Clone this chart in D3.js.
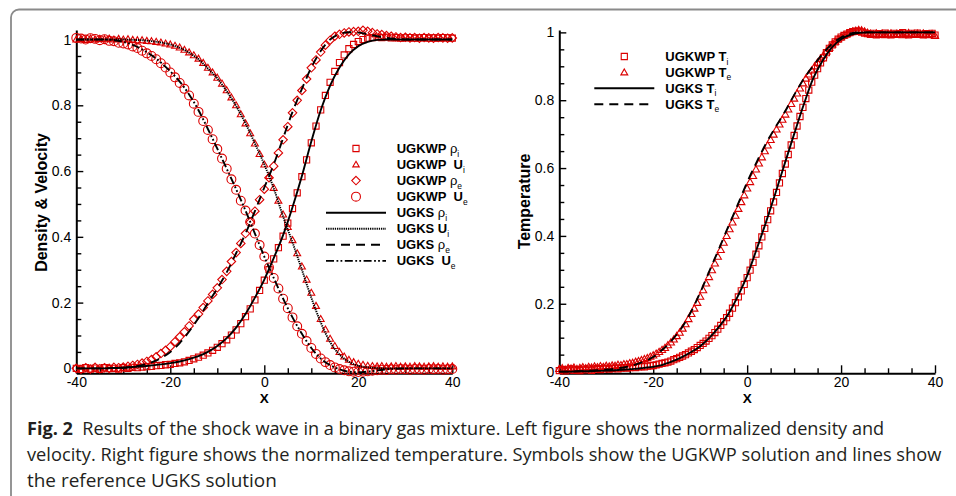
<!DOCTYPE html>
<html><head><meta charset="utf-8">
<script src="https://cdn.jsdelivr.net/npm/d3@7"></script>
<style>
html,body{margin:0;padding:0;background:#fff;}
svg{display:block;}
text{white-space:pre;}
</style></head><body>
<svg id="chart" width="956" height="496"></svg>
<script>
// ---------------- DATA ----------------
// Left panel: UGKWP symbols every 1 unit from -40 to 40
const leftMarkerX = d3.range(-40, 41, 1);
const ugkwpRhoI = [
  0.000,-0.003,0.002,-0.002,0.001,
  -0.003,0.002,-0.001,0.000,-0.002,
  0.002,0.000,0.003,0.002,0.004,
  0.005,0.006,0.008,0.009,0.011,
  0.012,0.015,0.017,0.020,0.024,
  0.029,0.034,0.040,0.047,0.055,
  0.064,0.075,0.087,0.101,0.117,
  0.136,0.157,0.181,0.208,0.237,
  0.268,0.300,0.333,0.367,0.402,
  0.442,0.486,0.534,0.583,0.634,
  0.686,0.737,0.786,0.830,0.870,
  0.903,0.930,0.953,0.972,0.985,
  0.994,1.000,1.004,1.006,1.007,
  1.006,1.007,1.005,1.006,1.004,
  1.005,1.006,1.004,1.005,1.006,
  1.004,1.005,1.004,1.006,1.005,
  1.004];
const ugkwpUI = [
  1.000,1.002,0.999,1.003,1.000,
  1.002,1.001,1.003,1.000,1.002,
  1.000,1.001,0.999,0.998,0.998,
  0.996,0.995,0.993,0.991,0.988,
  0.985,0.981,0.976,0.969,0.961,
  0.952,0.942,0.929,0.914,0.900,
  0.884,0.866,0.846,0.824,0.800,
  0.773,0.745,0.715,0.684,0.652,
  0.620,0.585,0.549,0.510,0.468,
  0.430,0.390,0.350,0.310,0.270,
  0.230,0.190,0.150,0.118,0.090,
  0.068,0.050,0.036,0.026,0.019,
  0.014,0.011,0.008,0.007,0.006,
  0.007,0.005,0.006,0.007,0.005,
  0.006,0.005,0.007,0.006,0.005,
  0.006,0.007,0.005,0.006,0.005,
  0.006];
const ugkwpRhoE = [
  0.000,-0.003,0.002,-0.002,0.003,
  -0.001,0.002,0.000,0.003,0.002,
  0.004,0.006,0.009,0.012,0.016,
  0.021,0.027,0.035,0.045,0.055,
  0.066,0.081,0.096,0.111,0.129,
  0.149,0.165,0.185,0.205,0.225,
  0.245,0.270,0.295,0.325,0.352,
  0.380,0.410,0.445,0.478,0.513,
  0.545,0.580,0.615,0.655,0.695,
  0.735,0.777,0.815,0.845,0.880,
  0.914,0.938,0.962,0.983,0.998,
  1.010,1.016,1.020,1.023,1.024,
  1.025,1.028,1.025,1.021,1.017,
  1.015,1.012,1.010,1.008,1.006,
  1.007,1.005,1.006,1.004,1.006,
  1.005,1.004,1.006,1.005,1.004,
  1.005];
const ugkwpUE = [
  1.005,1.003,1.000,1.004,1.002,
  0.998,1.001,0.996,0.995,0.990,
  0.988,0.985,0.979,0.974,0.966,
  0.958,0.950,0.940,0.928,0.915,
  0.900,0.885,0.868,0.850,0.830,
  0.805,0.780,0.752,0.725,0.697,
  0.667,0.638,0.607,0.575,0.543,
  0.510,0.480,0.445,0.410,0.375,
  0.340,0.307,0.275,0.243,0.212,
  0.183,0.155,0.128,0.105,0.083,
  0.062,0.044,0.030,0.019,0.010,
  0.003,-0.002,-0.006,-0.009,-0.010,
  -0.011,-0.010,-0.009,-0.007,-0.006,
  -0.004,-0.005,-0.003,-0.004,-0.002,
  -0.003,-0.004,-0.002,-0.003,-0.004,
  -0.002,-0.003,-0.002,-0.004,-0.003,
  -0.002];

// UGKS reference lines, every 2 units from -40 to 40 (both panels)
const lineX = d3.range(-40, 41, 2);
const ugksRhoI = [
  0.000,0.000,0.000,0.000,0.001,
  0.002,0.004,0.006,0.009,0.012,
  0.016,0.021,0.028,0.037,0.050,
  0.068,0.092,0.124,0.165,0.215,
  0.270,0.335,0.405,0.490,0.585,
  0.690,0.785,0.860,0.915,0.955,
  0.980,0.993,0.999,1.000,1.000,
  1.000,1.000,1.000,1.000,1.000,
  1.000];
const ugksUI = [
  1.000,1.000,1.000,1.000,1.000,
  1.000,0.999,0.998,0.995,0.991,
  0.985,0.975,0.960,0.940,0.912,
  0.882,0.843,0.798,0.745,0.684,
  0.620,0.548,0.462,0.383,0.300,
  0.215,0.140,0.080,0.042,0.020,
  0.008,0.003,0.001,0.000,0.000,
  0.000,0.000,0.000,0.000,0.000,
  0.000];
const ugksRhoE = [
  0.000,0.000,0.000,0.000,0.001,
  0.002,0.005,0.010,0.018,0.031,
  0.050,0.077,0.112,0.153,0.198,
  0.243,0.292,0.350,0.410,0.478,
  0.550,0.620,0.700,0.780,0.850,
  0.915,0.965,1.000,1.017,1.022,
  1.021,1.016,1.010,1.005,1.002,
  1.000,1.000,1.000,1.000,1.000,
  1.000];
const ugksUE = [
  1.000,1.000,1.000,1.000,0.998,
  0.993,0.984,0.970,0.952,0.930,
  0.903,0.872,0.833,0.785,0.728,
  0.668,0.607,0.545,0.480,0.410,
  0.340,0.275,0.212,0.155,0.105,
  0.062,0.030,0.010,-0.003,-0.010,
  -0.012,-0.010,-0.006,-0.003,-0.001,
  0.000,0.000,0.000,0.000,0.000,
  0.000];

// Right panel: UGKWP symbols every 0.625 units from -40 to 40
const rightMarkerX = d3.range(0, 129).map(i => -40 + i * 0.625);
const ugkwpTI = [
  0.003,0.006,0.002,0.005,0.008,0.004,0.006,0.003,
  0.007,0.005,0.008,0.004,0.007,0.009,0.006,0.008,
  0.010,0.007,0.009,0.011,0.008,0.010,0.012,0.010,
  0.012,0.013,0.012,0.014,0.015,0.014,0.016,0.017,
  0.018,0.020,0.022,0.024,0.026,0.028,0.031,0.035,
  0.038,0.042,0.046,0.050,0.055,0.060,0.065,0.071,
  0.077,0.083,0.090,0.098,0.106,0.115,0.125,0.136,
  0.147,0.159,0.172,0.187,0.203,0.220,0.238,0.257,
  0.277,0.299,0.322,0.346,0.371,0.397,0.422,0.448,
  0.474,0.500,0.528,0.556,0.584,0.612,0.640,0.668,
  0.696,0.724,0.752,0.779,0.805,0.830,0.853,0.874,
  0.893,0.910,0.925,0.940,0.953,0.963,0.972,0.980,
  0.986,0.991,0.995,0.999,1.002,1.004,1.003,1.001,
  0.998,0.996,0.994,0.997,0.993,0.996,0.994,0.998,
  0.995,0.993,0.997,0.994,0.996,0.999,0.995,0.993,
  0.997,0.994,0.998,0.995,0.993,0.996,0.994,0.997,
  0.992];
const ugkwpTE = [
  0.008,0.010,0.006,0.011,0.009,0.012,0.008,0.011,
  0.013,0.010,0.014,0.012,0.015,0.013,0.016,0.014,
  0.017,0.015,0.018,0.017,0.020,0.019,0.022,0.022,
  0.025,0.026,0.029,0.031,0.034,0.037,0.040,0.044,
  0.048,0.053,0.058,0.064,0.070,0.078,0.086,0.095,
  0.105,0.115,0.127,0.140,0.155,0.170,0.186,0.203,
  0.221,0.240,0.260,0.279,0.299,0.319,0.339,0.359,
  0.380,0.400,0.420,0.440,0.460,0.480,0.500,0.520,
  0.540,0.559,0.577,0.596,0.614,0.632,0.650,0.667,
  0.683,0.699,0.714,0.729,0.743,0.758,0.773,0.789,
  0.805,0.820,0.835,0.850,0.864,0.876,0.888,0.900,
  0.911,0.922,0.933,0.944,0.955,0.965,0.973,0.980,
  0.986,0.991,0.996,1.000,1.003,1.005,1.007,1.006,
  1.003,0.999,0.996,0.994,0.997,0.993,0.996,0.992,
  0.995,0.997,0.993,0.996,0.994,0.992,0.996,0.998,
  0.994,0.993,0.996,0.993,0.997,0.994,0.992,0.995,
  0.990];
const ugksTI = [
  0.000,0.000,0.001,0.001,0.002,
  0.003,0.004,0.006,0.008,0.011,
  0.014,0.020,0.030,0.042,0.057,
  0.075,0.100,0.132,0.170,0.222,
  0.283,0.360,0.440,0.525,0.613,
  0.700,0.785,0.862,0.915,0.955,
  0.980,0.993,0.999,1.000,1.000,
  1.000,1.000,1.000,1.000,1.000,
  1.000];
const ugksTE = [
  0.000,0.000,0.001,0.002,0.004,
  0.006,0.009,0.013,0.020,0.030,
  0.043,0.065,0.093,0.128,0.175,
  0.233,0.298,0.362,0.428,0.492,
  0.558,0.617,0.672,0.720,0.765,
  0.815,0.862,0.900,0.935,0.965,
  0.985,0.997,1.000,1.000,1.000,
  1.000,1.000,1.000,1.000,1.000,
  1.000];

// Ticks and labels
const xMajorTicks = [-40, -20, 0, 20, 40];
const xTickLabels = ["-40", "-20", "0", "20", "40"];
const xMinorTicks = [-35, -30, -25, -15, -10, -5, 5, 10, 15, 25, 30, 35];
const yMajorTicks = [0, 0.2, 0.4, 0.6, 0.8, 1];
const yTickLabels = ["0", "0.2", "0.4", "0.6", "0.8", "1"];
const yMinorTicks = [0.05, 0.1, 0.15, 0.25, 0.3, 0.35, 0.45, 0.5, 0.55, 0.65, 0.7, 0.75, 0.85, 0.9, 0.95];

const leftYTitle = "Density & Velocity";
const rightYTitle = "Temperature";
const xTitle = "X";
const captionBold = "Fig. 2";
const captionLines = [
  "  Results of the shock wave in a binary gas mixture. Left figure shows the normalized density and",
  "velocity. Right figure shows the normalized temperature. Symbols show the UGKWP solution and lines show",
  "the reference UGKS solution"
];

// ---------------- DRAWING ----------------
const RED = "#dc0000";
const svg = d3.select("#chart");
const FONT = "'Liberation Sans', Arial, Helvetica, sans-serif";

// frame
svg.append("rect").attr("x", 11).attr("y", 9.5).attr("width", 1000).attr("height", 600)
  .attr("rx", 8).attr("fill", "none").attr("stroke", "#8a8a8a").attr("stroke-width", 1.8);

const symSquare = { draw(ctx, size) { const s = Math.sqrt(size) / 2; ctx.rect(-s, -s, 2 * s, 2 * s); } };
const symDiamond = { draw(ctx, size) { const r = Math.sqrt(size) / 2; ctx.moveTo(0, -r); ctx.lineTo(r, 0); ctx.lineTo(0, r); ctx.lineTo(-r, 0); ctx.closePath(); } };
const symTriangle = { draw(ctx, size) { const a = Math.sqrt(size); const h = a * Math.sqrt(3) / 2; ctx.moveTo(0, -h / 2 - 0.5); ctx.lineTo(a / 2, h / 2 - 0.5); ctx.lineTo(-a / 2, h / 2 - 0.5); ctx.closePath(); } };
const symCircle = d3.symbolCircle;

function makePanel(x, y) {
  const g = svg.append("g");
  const y0 = y.range()[0];
  const x0 = x.range()[0];
  // minor ticks
  g.append("g").attr("transform", `translate(0,${y0})`)
    .call(d3.axisBottom(x).tickValues(xMinorTicks).tickSize(-5).tickSizeOuter(0).tickFormat(""))
    .call(a => a.select(".domain").remove());
  g.append("g").attr("transform", `translate(${x0},0)`)
    .call(d3.axisLeft(y).tickValues(yMinorTicks).tickSize(-5).tickSizeOuter(0).tickFormat(""))
    .call(a => a.select(".domain").remove());
  // major ticks + labels
  const ax = g.append("g").attr("transform", `translate(0,${y0})`)
    .call(d3.axisBottom(x).tickValues(xMajorTicks).tickSize(-8).tickSizeOuter(0)
      .tickFormat((d, i) => xTickLabels[i]).tickPadding(6));
  const ay = g.append("g").attr("transform", `translate(${x0},0)`)
    .call(d3.axisLeft(y).tickValues(yMajorTicks).tickSize(-7).tickSizeOuter(0)
      .tickFormat((d, i) => yTickLabels[i]).tickPadding(5));
  [ax, ay].forEach(a => {
    a.select(".domain").attr("stroke", "#000").attr("stroke-width", 2);
    a.selectAll("text").attr("font-family", FONT).attr("font-size", 14).attr("fill", "#000");
  });
  ax.selectAll(".tick text").attr("dy", null).attr("y", 14);
  g.selectAll(".tick line").attr("stroke", "#000").attr("stroke-width", 1.4);
  return g;
}

function drawMarkers(g, x, y, xs, ys, type, size) {
  g.append("g").selectAll("path").data(xs.map((d, i) => [d, ys[i]])).join("path")
    .attr("d", d3.symbol().type(type).size(size))
    .attr("transform", d => `translate(${x(d[0])},${y(d[1])})`)
    .attr("fill", "none").attr("stroke", RED).attr("stroke-width", 1.1);
}
function drawLine(g, x, y, xs, ys, dash) {
  g.append("path").datum(xs.map((d, i) => [d, ys[i]]))
    .attr("d", d3.line().x(d => x(d[0])).y(d => y(d[1])).curve(d3.curveMonotoneX))
    .attr("fill", "none").attr("stroke", "#000").attr("stroke-width", 1.9)
    .attr("stroke-dasharray", dash);
}

const DASH_SOLID = null, DASH_DOT = "1.3,0.9", DASH_DASH = "9,6", DASH_DDOT = "8,2.5,1.8,2.2,1.8,2.5";

// ----- Left panel -----
const xL = d3.scaleLinear().domain([-40, 40]).range([76.3, 452.3]);
const yL = d3.scaleLinear().domain([-0.015, 1.029]).range([373.3, 30]);
const gL = makePanel(xL, yL);
drawMarkers(gL, xL, yL, leftMarkerX, ugkwpRhoI, symSquare, 38);
drawMarkers(gL, xL, yL, leftMarkerX, ugkwpUI, symTriangle, 48);
drawMarkers(gL, xL, yL, leftMarkerX, ugkwpRhoE, symDiamond, 72);
drawMarkers(gL, xL, yL, leftMarkerX, ugkwpUE, symCircle, 62);
drawLine(gL, xL, yL, lineX, ugksRhoI, DASH_SOLID);
drawLine(gL, xL, yL, lineX, ugksUI, DASH_DOT);
drawLine(gL, xL, yL, lineX, ugksRhoE, DASH_DASH);
drawLine(gL, xL, yL, lineX, ugksUE, DASH_DDOT);

// ----- Right panel -----
const xR = d3.scaleLinear().domain([-40, 40]).range([559.3, 935]);
const yR = d3.scaleLinear().domain([-0.005, 1.007]).range([373.3, 30]);
const gR = makePanel(xR, yR);
drawMarkers(gR, xR, yR, rightMarkerX, ugkwpTI, symSquare, 38);
drawMarkers(gR, xR, yR, rightMarkerX, ugkwpTE, symTriangle, 52);
drawLine(gR, xR, yR, lineX, ugksTI, DASH_SOLID);
drawLine(gR, xR, yR, lineX, ugksTE, DASH_DASH);

// ----- Titles -----
function yTitle(txt, bx, cy) {
  svg.append("text").attr("transform", `translate(${bx},${cy}) rotate(-90)`)
    .attr("text-anchor", "middle").attr("font-family", FONT).attr("font-weight", "bold")
    .attr("font-size", 16).text(txt);
}
yTitle(leftYTitle, 47, 202.5);
yTitle(rightYTitle, 529.5, 201.5);
[xL, xR].forEach(s => {
  svg.append("text").attr("x", (s.range()[0] + s.range()[1]) / 2).attr("y", 402.5)
    .attr("text-anchor", "middle").attr("font-family", FONT).attr("font-weight", "bold")
    .attr("font-size", 13.5).text(xTitle);
});

// ----- Legends -----
function legendLabel(x, y, main, greek, sub) {
  const t = svg.append("text").attr("x", x).attr("y", y).attr("font-family", FONT)
    .attr("font-size", 13).attr("font-weight", "bold").attr("fill", "#000");
  t.append("tspan").text(main);
  if (greek) t.append("tspan").attr("font-weight", "normal").text(greek);
  t.append("tspan").attr("font-size", 8.5).attr("dy", 3.5).attr("font-weight", "normal").text(sub);
}
const leftLegend = [
  { kind: "m", sym: symSquare, size: 38, main: "UGKWP ", greek: "ρ", sub: "i" },
  { kind: "m", sym: symTriangle, size: 42, main: "UGKWP  U", greek: "", sub: "i" },
  { kind: "m", sym: symDiamond, size: 72, main: "UGKWP ", greek: "ρ", sub: "e" },
  { kind: "m", sym: symCircle, size: 62, main: "UGKWP  U", greek: "", sub: "e" },
  { kind: "l", dash: DASH_SOLID, main: "UGKS ", greek: "ρ", sub: "i" },
  { kind: "l", dash: DASH_DOT, main: "UGKS U", greek: "", sub: "i" },
  { kind: "l", dash: DASH_DASH, main: "UGKS ", greek: "ρ", sub: "e" },
  { kind: "l", dash: DASH_DDOT, main: "UGKS  U", greek: "", sub: "e" }
];
leftLegend.forEach((d, i) => {
  const cy = 148.5 + i * 16.05;
  if (d.kind === "m") {
    svg.append("path").attr("d", d3.symbol().type(d.sym).size(d.size)())
      .attr("transform", `translate(356,${cy})`).attr("fill", "none").attr("stroke", RED).attr("stroke-width", 1.1);
  } else {
    svg.append("line").attr("x1", 326).attr("x2", 386).attr("y1", cy).attr("y2", cy)
      .attr("stroke", "#000").attr("stroke-width", 1.9).attr("stroke-dasharray", d.dash);
  }
  legendLabel(396.7, cy + 4.5, d.main, d.greek, d.sub);
});
const rightLegend = [
  { kind: "m", sym: symSquare, size: 38, main: "UGKWP T", sub: "i" },
  { kind: "m", sym: symTriangle, size: 48, main: "UGKWP T", sub: "e" },
  { kind: "l", dash: DASH_SOLID, main: "UGKS T", sub: "i" },
  { kind: "l", dash: DASH_DASH, main: "UGKS T", sub: "e" }
];
rightLegend.forEach((d, i) => {
  const cy = 56.5 + i * 15.9;
  if (d.kind === "m") {
    svg.append("path").attr("d", d3.symbol().type(d.sym).size(d.size)())
      .attr("transform", `translate(624.3,${cy})`).attr("fill", "none").attr("stroke", RED).attr("stroke-width", 1.1);
  } else {
    svg.append("line").attr("x1", 594.3).attr("x2", 654.3).attr("y1", cy).attr("y2", cy)
      .attr("stroke", "#000").attr("stroke-width", 1.9).attr("stroke-dasharray", d.dash);
  }
  legendLabel(665.3, cy + 4.5, d.main, "", d.sub);
});

// ----- Caption -----
const CAP_FONT = "'Open Sans', 'Noto Sans', sans-serif";
const capBase = [435, 461, 487];
const capEnds = [885, 942, 277];
captionLines.forEach((line, i) => {
  const t = svg.append("text").attr("x", 0).attr("y", 0)
    .attr("font-family", CAP_FONT).attr("font-size", 17.5).attr("fill", "#231f20");
  if (i === 0) t.append("tspan").attr("font-weight", "bold").text(captionBold);
  t.append("tspan").text(line);
  const w = t.node().getComputedTextLength();
  const k = (capEnds[i] - 27) / w;
  t.attr("transform", `translate(27,${capBase[i]}) scale(${k},1)`);
});
</script>
</body></html>
